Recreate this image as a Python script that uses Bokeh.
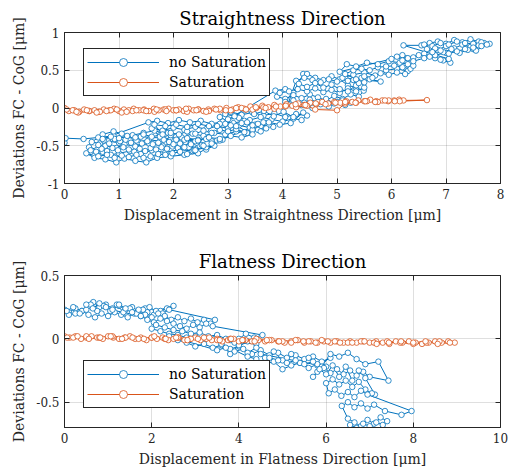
from bokeh.plotting import figure
from bokeh.models import (Legend, LegendItem, LinearAxis, FixedTicker, Range1d,
                          ColumnDataSource)
from bokeh.layouts import column
from bokeh.embed import file_html
from bokeh.resources import INLINE

# ---------------- data: Straightness direction ----------------
st_nosat_x = [
    0.00, 0.02, 0.35, 0.62, 0.90, 1.15, 1.40,
    2.70, 2.45, 2.20, 2.00, 1.85, 1.65, 1.45, 1.25, 1.05, 0.90, 0.70,
    0.50, 0.65, 0.80, 1.00, 1.20, 1.35, 1.55, 1.75, 1.95, 2.15, 2.40, 2.60,
    2.75, 2.60, 2.35, 2.10, 1.85, 1.60, 1.40, 1.20, 1.00, 0.85, 0.70, 0.55, 0.40,
    0.55, 0.75, 0.95, 1.10, 1.30, 1.50, 1.70, 1.95, 2.20, 2.45,
    2.90, 2.80, 2.55, 2.30, 2.05, 1.80, 1.55, 1.30, 1.10, 0.95, 0.75, 0.60, 0.45,
    0.48, 0.58, 0.68, 0.78, 0.88, 0.98, 1.08, 1.18, 1.28, 1.38, 1.48, 1.58, 1.68, 1.78, 1.88, 1.98, 2.08, 2.18, 2.28, 2.38, 2.48,
    2.62, 2.52, 2.42, 2.32, 2.22, 2.12, 2.02, 1.92, 1.82, 1.72, 1.62, 1.52, 1.42, 1.32, 1.22, 1.12, 1.02, 0.92, 0.82, 0.72, 0.62,
    0.62, 0.78, 0.92, 1.05, 1.18, 1.32, 1.45, 1.58, 1.72, 1.85, 1.98, 2.12, 2.25, 2.38,
    2.20, 2.05, 1.90, 1.75, 1.60, 1.45, 1.30, 1.15, 1.00, 0.85, 0.70,
    1.54, 1.70, 1.90, 2.10, 2.30, 2.50, 2.70, 2.90, 3.10, 3.30, 3.50, 3.70, 3.83,
    3.75, 3.60, 3.40, 3.20, 3.00, 2.80, 2.60, 2.40, 2.20, 2.00, 1.80, 1.60,
    1.75, 1.95, 2.15, 2.35, 2.55, 2.75, 2.95, 3.15, 3.35, 3.55, 3.70,
    3.60, 3.45, 3.30, 3.15, 3.00, 2.85, 2.70, 2.55, 2.40, 2.25, 2.10, 1.95, 1.80,
    1.65, 1.85, 2.05, 2.25, 2.45, 2.65, 2.85, 3.05, 3.25, 3.45, 3.65,
    2.85, 2.70, 2.55, 2.40, 2.20, 2.00, 2.20, 2.40, 2.60,
    2.05, 2.25, 2.45, 2.65, 2.85, 3.05, 3.25, 3.45,
    2.85, 3.05, 3.25, 3.45, 3.65, 3.85, 4.05, 4.25, 4.45,
    4.35, 4.20, 4.00, 3.80, 3.60, 3.40, 3.20, 3.00,
    2.95, 3.12, 3.30, 3.48, 3.66, 3.84, 4.02, 4.20, 4.38,
    4.15, 3.95, 3.75, 3.55, 3.35, 3.15, 2.95, 2.80,
    3.87, 4.05, 4.20, 4.38, 4.45, 4.60, 4.75, 4.90, 5.05, 5.20, 5.35, 5.49,
    5.40, 5.25, 5.10, 4.95, 4.80, 4.65, 4.50, 4.35, 4.20, 4.05, 3.90,
    3.95, 4.12, 4.28, 4.45, 4.60, 4.75, 4.90, 5.05, 5.20, 5.35, 5.50,
    5.45, 5.30, 5.15, 5.00, 4.85, 4.70, 4.55, 4.40, 4.25,
    4.10, 4.25, 4.40, 4.55, 4.70, 4.85, 5.00, 5.15,
    5.25, 5.10, 4.95, 4.80, 4.65, 4.50, 4.35, 4.20, 4.05,
    4.30, 4.45, 4.60, 4.75, 4.90, 5.05, 5.20, 5.35, 5.50,
    5.20, 5.40, 5.60, 5.80,
    5.10, 5.30, 5.50, 5.70, 5.90, 6.10, 6.30,
    6.25, 6.10, 5.95, 5.80, 5.65, 5.50, 5.35,
    5.15, 5.30, 5.45, 5.60, 5.75, 5.90, 6.05, 6.20, 6.35,
    6.40, 6.30, 6.15, 5.95, 5.75, 5.55, 5.35, 5.18, 5.05,
    6.00, 6.20, 6.40, 6.60, 6.80, 6.95, 7.08,
    7.00, 6.80, 6.60, 6.40, 6.20,
    6.10, 6.30, 6.50, 6.70, 6.90, 7.05,
    6.22, 6.55, 6.70, 6.85, 7.00, 7.15, 7.30, 7.45, 7.60, 7.70, 7.80,
    7.50, 7.60, 7.45, 7.30, 7.15, 7.00, 6.85, 6.70,
    6.60, 6.75, 6.90, 7.05, 7.20, 7.35, 7.50, 7.65, 7.75,
    7.55, 7.40, 7.25, 7.10, 6.95, 6.80, 6.65,
    6.75, 6.90, 7.05, 7.20, 7.35, 7.50, 7.65,
]
st_nosat_y = [
    -0.46, -0.40, -0.41, -0.39, -0.37, -0.40, -0.38,
    -0.44, -0.42, -0.40, -0.37, -0.34, -0.30, -0.33, -0.36, -0.34, -0.31, -0.35,
    -0.45, -0.47, -0.44, -0.46, -0.43, -0.45, -0.42, -0.44, -0.41, -0.44, -0.52, -0.55,
    -0.50, -0.52, -0.57, -0.55, -0.59, -0.56, -0.61, -0.57, -0.60, -0.62, -0.58, -0.63, -0.60,
    -0.66, -0.68, -0.72, -0.67, -0.70, -0.72, -0.66, -0.64, -0.62, -0.60,
    -0.42, -0.43, -0.45, -0.49, -0.46, -0.50, -0.47, -0.51, -0.48, -0.53, -0.50, -0.55, -0.52,
    -0.56, -0.58, -0.54, -0.57, -0.53, -0.56, -0.52, -0.55, -0.58, -0.54, -0.57, -0.53, -0.55, -0.52, -0.54, -0.51, -0.53, -0.50, -0.52, -0.48, -0.50,
    -0.47, -0.49, -0.46, -0.48, -0.45, -0.47, -0.43, -0.45, -0.42, -0.46, -0.48, -0.44, -0.47, -0.43, -0.46, -0.42, -0.44, -0.41, -0.47, -0.43, -0.49,
    -0.64, -0.62, -0.66, -0.63, -0.65, -0.62, -0.66, -0.64, -0.61, -0.62, -0.60, -0.58, -0.61, -0.56,
    -0.36, -0.38, -0.33, -0.36, -0.38, -0.35, -0.39, -0.37, -0.40, -0.38, -0.41,
    -0.19, -0.17, -0.20, -0.16, -0.19, -0.17, -0.21, -0.18, -0.20, -0.17, -0.22, -0.20, -0.25,
    -0.22, -0.24, -0.26, -0.23, -0.27, -0.24, -0.28, -0.25, -0.29, -0.26, -0.30, -0.27,
    -0.38, -0.36, -0.39, -0.34, -0.37, -0.33, -0.35, -0.31, -0.33, -0.29, -0.27,
    -0.31, -0.29, -0.32, -0.28, -0.31, -0.29, -0.33, -0.30, -0.34, -0.31, -0.35, -0.33, -0.35,
    -0.22, -0.24, -0.22, -0.25, -0.21, -0.24, -0.21, -0.23, -0.20, -0.23, -0.19,
    -0.43, -0.47, -0.50, -0.56, -0.52, -0.48, -0.42, -0.44, -0.41,
    -0.42, -0.40, -0.43, -0.39, -0.41, -0.37, -0.39, -0.35,
    -0.12, -0.05, -0.09, -0.06, -0.10, -0.07, -0.12, -0.08, -0.10,
    -0.16, -0.14, -0.18, -0.15, -0.12, -0.16, -0.13, -0.15,
    -0.08, -0.11, -0.03, -0.08, -0.04, -0.11, -0.05, -0.12, -0.06,
    -0.20, -0.22, -0.19, -0.21, -0.19, -0.24, -0.21, -0.24,
    0.23, 0.25, 0.20, 0.45, 0.45, 0.40, 0.37, 0.42, 0.38, 0.30, 0.27, 0.23,
    0.15, 0.18, 0.12, 0.16, 0.10, 0.14, 0.18, 0.13, 0.17, 0.12, 0.15,
    0.20, 0.22, 0.25, 0.22, 0.26, 0.21, 0.24, 0.20, 0.26, 0.22, 0.27,
    0.40, 0.37, 0.40, 0.35, 0.38, 0.34, 0.37, 0.40, 0.36,
    0.05, 0.02, 0.07, 0.00, 0.05, 0.02, 0.08, 0.04,
    0.07, 0.10, 0.06, 0.12, 0.08, 0.11, 0.04, 0.10, 0.08,
    0.32, 0.28, 0.33, 0.27, 0.31, 0.25, 0.22, 0.30, 0.34,
    0.36, 0.33, 0.38, 0.35,
    0.40, 0.44, 0.47, 0.43, 0.50, 0.52, 0.49,
    0.45, 0.47, 0.44, 0.46, 0.40, 0.42, 0.38,
    0.45, 0.50, 0.52, 0.50, 0.54, 0.55, 0.56, 0.54, 0.52,
    0.56, 0.58, 0.60, 0.62, 0.58, 0.60, 0.55, 0.58, 0.48,
    0.65, 0.70, 0.67, 0.72, 0.66, 0.63, 0.60,
    0.73, 0.70, 0.66, 0.62, 0.63,
    0.68, 0.66, 0.70, 0.68, 0.64, 0.65,
    0.83, 0.83, 0.86, 0.88, 0.85, 0.90, 0.87, 0.91, 0.88, 0.86, 0.85,
    0.78, 0.83, 0.81, 0.84, 0.79, 0.82, 0.77, 0.80,
    0.84, 0.82, 0.86, 0.84, 0.88, 0.86, 0.85, 0.87, 0.84,
    0.76, 0.77, 0.73, 0.78, 0.74, 0.79, 0.78,
    0.74, 0.76, 0.72, 0.75, 0.78, 0.80, 0.82,
]
st_sat_x = [
    0.00, 0.08, 0.18, 0.27, 0.36, 0.46, 0.55, 0.63, 0.72, 0.82,
    0.91, 1.00, 1.09, 1.18, 1.27, 1.37, 1.46, 1.55, 1.64, 1.73,
    1.82, 1.91, 2.00, 2.10, 2.19, 2.28, 2.37, 2.46, 2.55, 2.64,
    2.75, 2.86, 2.97, 3.08, 3.19, 3.30, 3.41, 3.52, 3.63, 3.74,
    3.85, 3.96, 4.07, 4.18, 4.29, 4.40, 4.51, 4.62, 4.73, 4.84,
    4.95, 5.06, 5.17, 5.28, 5.39, 5.50, 5.61, 5.72, 5.83, 5.94, 6.05, 6.14, 6.22, 6.65,
    6.15, 5.95, 5.75, 5.55, 5.35, 5.15, 5.00, 4.60, 4.45, 4.25,
    4.05, 3.85, 3.65, 3.45, 3.25, 3.05, 2.85, 2.65, 2.45, 2.25,
    2.05, 1.85, 1.65, 1.45, 1.25, 1.05, 0.85, 0.65, 0.45, 0.25, 0.15,
    0.04, 0.22, 0.41, 0.59, 0.77, 0.96, 1.14, 1.32, 1.50, 1.69,
    1.87, 2.05, 2.23, 2.42, 2.60, 2.78, 2.96, 3.15, 3.33, 3.51,
    3.69, 3.88, 4.06, 4.24, 4.42, 4.61, 4.79, 4.97, 5.15, 5.34,
    5.52, 5.70, 5.88, 6.06,
]
st_sat_y = [
    0.00, -0.04, -0.03, -0.05, -0.02, -0.04, -0.03, -0.05, -0.02, -0.03,
    -0.01, -0.04, -0.02, -0.03, -0.01, -0.03, -0.02, -0.04, -0.01, -0.03,
    -0.02, -0.01, -0.03, -0.02, -0.04, -0.01, -0.03, -0.02, -0.04, -0.02,
    -0.01, -0.03, 0.00, -0.02, 0.01, -0.01, 0.02, 0.00, 0.03, 0.01,
    0.04, 0.02, 0.05, 0.03, 0.06, 0.04, 0.07, 0.05, 0.08, 0.06,
    0.08, 0.07, 0.09, 0.08, 0.10, 0.09, 0.11, 0.09, 0.10, 0.09, 0.10, 0.11, 0.10, 0.105,
    0.09, 0.10, 0.08, 0.09, 0.07, 0.06, -0.03, -0.02, 0.03, 0.01,
    0.02, -0.01, 0.01, -0.02, 0.00, -0.03, -0.01, -0.04, -0.02, -0.05,
    -0.03, -0.02, -0.05, -0.03, -0.04, -0.06, -0.03, -0.05, -0.04, -0.06, -0.03,
    -0.02, -0.05, -0.03, -0.06, -0.04, -0.02, -0.05, -0.03, -0.04, -0.02,
    -0.04, -0.03, -0.01, -0.03, -0.05, -0.02, -0.03, 0.00, -0.02, 0.01,
    0.00, 0.02, 0.03, 0.05, 0.04, 0.06, 0.05, 0.07, 0.08, 0.07,
    0.09, 0.08, 0.10, 0.09,
]

# ---------------- data: Flatness direction ----------------
fl_nosat_x = [
    0.00, 0.10, 0.25, 0.40, 0.55, 0.66, 0.80, 0.95, 1.10, 1.25, 1.40, 1.55, 1.70, 1.85, 2.00,
    2.50, 2.35, 2.20, 2.05, 1.90, 1.75, 1.60, 1.45, 1.30, 1.15, 1.00, 0.85, 0.70, 0.55, 0.40, 0.25, 0.10,
    0.05, 0.20, 0.35, 0.50, 0.60, 0.75, 0.90, 1.05, 1.20, 1.35, 1.50, 1.65, 1.80, 1.95, 2.10, 2.25, 2.40,
    3.45, 3.35, 3.20, 3.05, 2.90, 2.75, 2.60, 2.45, 2.30, 2.15, 2.00, 1.85, 1.70, 1.55, 1.40, 1.25, 1.10, 0.95, 0.80, 0.65, 0.50,
    1.75, 1.90, 2.05, 2.20, 2.35, 2.50, 2.65, 2.80, 2.95, 3.10, 3.25, 3.40,
    4.54, 4.35, 4.16, 4.00, 3.80, 3.60, 3.40, 3.20, 3.00, 2.80, 2.60, 2.40, 2.20, 2.00,
    2.10, 2.30, 2.50, 2.70, 2.90, 3.10, 3.30, 3.50, 3.70, 3.90,
    4.40, 4.20, 4.00, 3.80, 3.60, 3.40, 3.20, 3.00, 2.80, 2.60, 2.40,
    3.50, 3.70, 3.90, 4.10, 4.30, 4.50, 4.70, 4.90, 5.10, 5.30, 5.50, 5.70, 5.90, 6.10,
    5.80, 5.60, 5.40, 5.20, 5.00, 4.80, 4.60, 4.40, 4.20, 4.00, 3.80, 3.60,
    4.20, 4.40, 4.60, 4.80, 5.00, 5.20, 5.40, 5.60, 5.80, 6.00,
    4.50, 4.70, 4.90, 5.10, 5.30, 5.50, 5.70, 5.90, 6.10, 6.30, 6.50, 6.70, 6.90, 7.20,
    7.43, 7.00, 6.85, 6.70, 6.55, 6.40, 6.25, 6.10, 5.95, 5.80,
    5.70, 5.85, 6.00, 6.15, 6.30, 6.45, 6.60, 6.75, 6.90,
    7.12, 7.05, 6.90, 6.75, 6.60, 6.45, 6.30, 6.15, 6.00,
    6.06, 6.20, 6.35, 6.50, 6.65, 6.80, 6.95,
    7.96, 7.73, 7.35, 7.10, 6.95, 6.80, 6.65, 6.50, 6.36,
    6.50, 6.65, 6.80, 6.95, 7.10, 7.25, 7.40,
    7.30, 7.15, 7.00, 6.85, 6.70, 6.55,
]
fl_nosat_y = [
    0.23, 0.21, 0.24, 0.22, 0.26, 0.29, 0.25, 0.27, 0.24, 0.26, 0.23, 0.25, 0.22, 0.24, 0.21,
    0.26, 0.24, 0.22, 0.19, 0.21, 0.18, 0.20, 0.17, 0.19, 0.21, 0.18, 0.20, 0.17, 0.19, 0.22, 0.20, 0.19,
    0.22, 0.25, 0.20, 0.23, 0.27, 0.22, 0.26, 0.22, 0.27, 0.21, 0.24, 0.20, 0.23, 0.25, 0.22, 0.20, 0.23,
    0.15, 0.12, 0.15, 0.13, 0.16, 0.14, 0.17, 0.15, 0.18, 0.20, 0.17, 0.19, 0.23, 0.21, 0.24, 0.27, 0.23, 0.25, 0.28, 0.24, 0.27,
    0.18, 0.15, 0.13, 0.16, 0.14, 0.12, 0.10, 0.08, 0.11, 0.09, 0.12, 0.10,
    0.03, 0.01, 0.04, 0.00, -0.01, -0.02, 0.00, -0.01, 0.02, 0.01, 0.03, 0.04, 0.06, 0.08,
    0.11, 0.09, 0.07, 0.06, 0.04, 0.05, 0.02, 0.03, 0.00, -0.03,
    -0.04, -0.02, -0.06, -0.08, -0.05, -0.07, -0.04, -0.06, -0.03, -0.01, 0.02,
    -0.09, -0.07, -0.10, -0.08, -0.12, -0.09, -0.13, -0.11, -0.15, -0.13, -0.16, -0.14, -0.18, -0.15,
    -0.21, -0.15, -0.19, -0.12, -0.17, -0.10, -0.15, -0.07, -0.11, -0.05, -0.12, -0.04,
    -0.14, -0.16, -0.20, -0.18, -0.24, -0.21, -0.19, -0.23, -0.20, -0.22,
    -0.12, -0.15, -0.17, -0.19, -0.17, -0.20, -0.18, -0.22, -0.12, -0.14, -0.11, -0.16, -0.20, -0.18,
    -0.33, -0.30, -0.26, -0.29, -0.25, -0.28, -0.24, -0.27, -0.23, -0.26,
    -0.30, -0.24, -0.28, -0.21, -0.30, -0.22, -0.33, -0.25, -0.31,
    -0.44, -0.43, -0.40, -0.34, -0.38, -0.33, -0.36, -0.32, -0.35,
    -0.43, -0.40, -0.45, -0.42, -0.46, -0.41, -0.44,
    -0.57, -0.60, -0.57, -0.52, -0.55, -0.51, -0.54, -0.50, -0.53,
    -0.63, -0.66, -0.69, -0.64, -0.67, -0.62, -0.65,
    -0.68, -0.66, -0.69, -0.67, -0.705, -0.68,
]
fl_sat_x = [
    0.00, 0.12, 0.25, 0.38, 0.50, 0.62, 0.75, 0.88, 1.00, 1.12,
    1.25, 1.38, 1.50, 1.62, 1.75, 1.88, 2.00, 2.12, 2.25, 2.38,
    2.50, 2.62, 2.75, 2.88, 3.00, 3.12, 3.25, 3.38, 3.50, 3.62,
    3.75, 3.88, 4.00, 4.15, 4.30, 4.45, 4.60, 4.75, 4.90, 5.05,
    5.20, 5.35, 5.50, 5.65, 5.80, 5.95, 6.10, 6.25, 6.40, 6.55,
    6.70, 6.85, 7.00, 7.15, 7.30, 7.45, 7.60, 7.75, 7.90, 8.05,
    8.20, 8.35, 8.50, 8.65, 8.80, 8.95,
    8.60, 8.30, 8.00, 7.70, 7.40, 7.10, 6.80, 6.50, 6.20, 5.90,
    5.60, 5.30, 5.00, 4.70, 4.40, 4.10, 3.80, 3.50, 3.20, 2.90,
    2.60, 2.30, 2.00, 1.70, 1.40, 1.10, 0.80, 0.50, 0.20,
    0.06, 0.30, 0.56, 0.82, 1.06, 1.32, 1.56, 1.82, 2.06, 2.32,
    2.56, 2.82, 3.06, 3.32, 3.56, 3.82, 4.08, 4.36, 4.64, 4.92,
    5.20, 5.48, 5.76, 6.04, 6.32, 6.60, 6.88, 7.16, 7.44, 7.72,
    8.00, 8.28, 8.56, 8.84,
]
fl_sat_y = [
    0.02, 0.01, 0.02, 0.00, 0.01, 0.02, 0.01, 0.00, 0.02, 0.01,
    0.00, 0.01, 0.02, 0.00, 0.01, -0.01, 0.01, 0.00, 0.01, -0.01,
    0.00, 0.01, -0.01, 0.00, 0.01, -0.01, 0.00, -0.01, 0.00, -0.02,
    -0.01, 0.00, -0.02, -0.01, -0.02, -0.01, -0.02, -0.01, -0.02, -0.03,
    -0.02, -0.01, -0.03, -0.02, -0.03, -0.02, -0.03, -0.02, -0.03, -0.02,
    -0.03, -0.02, -0.03, -0.02, -0.03, -0.04, -0.02, -0.03, -0.02, -0.03,
    -0.04, -0.03, -0.02, -0.03, -0.02, -0.03,
    -0.02, -0.03, -0.04, -0.03, -0.02, -0.03, -0.02, -0.03, -0.02, -0.01,
    -0.02, -0.01, -0.02, -0.01, 0.00, -0.01, 0.00, -0.01, 0.01, 0.00,
    0.01, 0.00, 0.01, 0.00, 0.01, 0.02, 0.01, 0.02, 0.01,
    0.01, 0.02, 0.00, 0.01, 0.02, 0.00, 0.01, 0.00, 0.02, 0.00,
    0.01, -0.01, 0.00, 0.01, -0.01, 0.00, -0.01, -0.02, -0.01, -0.02,
    -0.03, -0.02, -0.03, -0.02, -0.03, -0.03, -0.02, -0.04, -0.03, -0.02,
    -0.03, -0.02, -0.04, -0.03,
]

legend_labels = ["no Saturation", "Saturation"]
st_xticks = [0, 1, 2, 3, 4, 5, 6, 7, 8]
st_yticks = [-1, -0.5, 0, 0.5, 1]
fl_xticks = [0, 2, 4, 6, 8, 10]
fl_yticks = [-0.5, 0, 0.5]

BLUE = "#0072BD"
ORANGE = "#D95319"
AXC = "#262626"
FONT = "DejaVu Serif"


def fmt(v):
    return "%g" % v


def make_plot(title, xlabel, xr, yr, xt, yt, series, height, top, bottom,
              right, legend_loc):
    p = figure(width=512, height=height, x_range=Range1d(*xr),
               y_range=Range1d(*yr), toolbar_location=None,
               output_backend="svg", min_border_left=64,
               min_border_right=right, min_border_top=top,
               min_border_bottom=bottom, title=title)
    p.title.text_font = FONT
    p.title.text_font_size = "18px"
    p.title.text_font_style = "normal"
    p.title.align = "center"
    p.title.text_color = "black"
    p.title.standoff = 8
    p.outline_line_color = AXC
    p.outline_line_alpha = 1
    p.outline_line_width = 1
    p.background_fill_color = "white"

    p.xaxis.ticker = FixedTicker(ticks=xt)
    p.yaxis.ticker = FixedTicker(ticks=yt)
    p.xaxis.major_label_overrides = {t: fmt(t) for t in xt}
    p.yaxis.major_label_overrides = {t: fmt(t) for t in yt}
    p.xaxis.axis_label = xlabel
    p.yaxis.axis_label = "Deviations FC - CoG [\u03bcm]"
    for ax in (p.xaxis[0], p.yaxis[0]):
        ax.major_tick_in = 5
        ax.major_tick_out = 0
        ax.minor_tick_line_color = None
        ax.axis_line_color = AXC
        ax.major_tick_line_color = AXC
        ax.major_label_text_font = FONT
        ax.major_label_text_font_size = "12px"
        ax.major_label_text_color = AXC
        ax.axis_label_text_font = FONT
        ax.axis_label_text_font_size = "14px"
        ax.axis_label_text_font_style = "normal"
        ax.axis_label_text_color = AXC
        ax.major_label_standoff = 5
    p.xaxis.axis_label_standoff = 5
    p.yaxis.axis_label_standoff = 6

    for loc, ticks in (("right", yt), ("above", xt)):
        ax = LinearAxis(ticker=FixedTicker(ticks=ticks),
                        major_label_overrides={t: "" for t in ticks},
                        major_label_text_font_size="1px",
                        major_label_standoff=0,
                        major_tick_in=5, major_tick_out=0,
                        minor_tick_line_color=None,
                        axis_line_color=None,
                        major_tick_line_color=AXC)
        p.add_layout(ax, loc)

    p.xgrid.ticker = FixedTicker(ticks=xt)
    p.ygrid.ticker = FixedTicker(ticks=yt)
    p.grid.grid_line_color = AXC
    p.grid.grid_line_alpha = 0.15

    items = []
    for (xs, ys, color), label in zip(series, legend_labels):
        src = ColumnDataSource(data=dict(x=xs, y=ys))
        ln = p.line("x", "y", source=src, line_color=color, line_width=1)
        sc = p.scatter("x", "y", source=src, marker="circle", size=5.5,
                       fill_color="white", line_color=color, line_width=0.8)
        items.append(LegendItem(label=label, renderers=[ln, sc]))

    leg = Legend(items=items, location=legend_loc, margin=0,
                 label_text_font=FONT, label_text_font_size="14px",
                 label_text_color="black",
                 glyph_width=72, glyph_height=20, label_height=20,
                 label_standoff=10, padding=3, spacing=0,
                 border_line_color=AXC, border_line_width=1,
                 border_line_alpha=1,
                 background_fill_color="white", background_fill_alpha=1)
    p.add_layout(leg, "center")
    return p


p1 = make_plot("Straightness Direction",
               "Displacement in Straightness Direction [\u03bcm]",
               (0, 8), (-1, 1), st_xticks, st_yticks,
               [(st_nosat_x, st_nosat_y, BLUE), (st_sat_x, st_sat_y, ORANGE)],
               height=236, top=32, bottom=53, right=12, legend_loc=(19, 87))
p2 = make_plot("Flatness Direction",
               "Displacement in Flatness Direction [\u03bcm]",
               (0, 10), (-0.7, 0.5), fl_xticks, fl_yticks,
               [(fl_nosat_x, fl_nosat_y, BLUE), (fl_sat_x, fl_sat_y, ORANGE)],
               height=234, top=39, bottom=43, right=9, legend_loc=(19, 19))

layout = column(p1, p2)
open("out.html", "w").write(file_html(layout, INLINE))
